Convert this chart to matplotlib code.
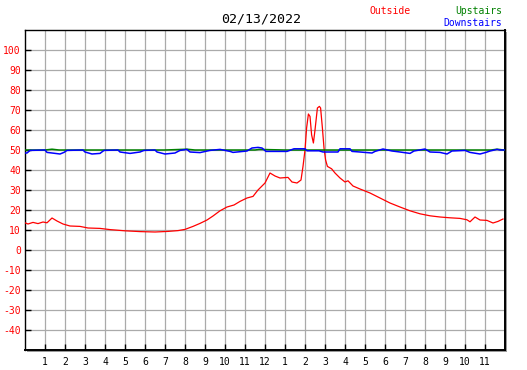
import matplotlib
matplotlib.use("Agg")
import matplotlib.pyplot as plt
from matplotlib.patches import Rectangle

# hour of day (0-24) and temperature readings
outside_hours = [0.0, 0.15, 0.4, 0.65, 0.9, 1.1, 1.35, 1.6, 1.9, 2.25, 2.75, 3.15, 3.75, 4.25,
                 5.0, 5.75, 6.5, 7.15, 7.65, 8.0, 8.4, 8.75, 9.1, 9.4, 9.75, 10.1, 10.45, 10.75,
                 11.1, 11.4, 11.65, 11.85, 12.0, 12.25, 12.5, 12.75, 13.15, 13.35, 13.6, 13.8,
                 13.9, 14.0, 14.08, 14.17, 14.25, 14.33, 14.42, 14.5, 14.62, 14.72, 14.78, 14.87,
                 14.95, 15.03, 15.12, 15.33, 15.5, 15.75, 16.0, 16.15, 16.4, 16.75, 17.25, 17.75,
                 18.25, 18.75, 19.25, 19.75, 20.25, 20.75, 21.25, 21.75, 22.1, 22.25, 22.5, 22.75,
                 23.1, 23.4, 23.65, 23.9]
outside_temp = [13.6, 13.0, 13.8, 13.2, 14.0, 13.6, 16.0, 14.5, 13.0, 12.0, 11.8, 11.0, 10.8, 10.2,
                9.6, 9.2, 9.0, 9.3, 9.7, 10.3, 11.8, 13.3, 15.0, 17.0, 19.6, 21.5, 22.5, 24.3,
                26.0, 26.8, 30.0, 32.0, 33.5, 38.5, 37.0, 36.0, 36.3, 34.0, 33.5, 35.0,
                41.8, 50.0, 61.0, 68.0, 66.8, 57.6, 53.5, 60.0, 71.0, 71.8, 71.0, 61.0,
                51.0, 45.0, 41.8, 40.6, 38.5, 36.0, 34.0, 34.6, 32.0, 30.5, 28.5, 26.0,
                23.5, 21.5, 19.6, 18.1, 17.1, 16.5, 16.1, 15.8, 15.1, 14.1, 16.5, 15.0,
                14.8, 13.5, 14.3, 15.5]

upstairs_hours = [0.0, 1.0, 1.35, 1.7, 2.5, 4.0, 5.5, 7.0, 8.1, 8.5, 10.0, 11.5, 11.7, 13.0,
                  14.5, 16.0, 17.5, 19.0, 20.5, 22.0, 23.3, 23.6, 23.95]
upstairs_temp = [50.0, 50.0, 50.4, 50.0, 50.0, 50.0, 50.0, 50.0, 50.4, 50.0, 50.0, 50.0, 50.3, 50.0,
                 50.0, 50.0, 50.0, 50.0, 50.0, 50.0, 50.0, 50.4, 50.0]

downstairs_hours = [0.0, 0.1, 0.25, 1.0, 1.1, 1.35, 1.75, 1.95, 2.1, 2.9, 3.0, 3.35, 3.75, 3.95,
                    4.65, 4.75, 5.25, 5.75, 5.95, 6.5, 6.6, 7.0, 7.5, 7.75, 8.1, 8.25, 8.75, 9.25,
                    9.75, 10.25, 10.4, 11.1, 11.35, 11.65, 11.85, 12.05, 13.1, 13.45, 14.0, 14.1,
                    14.7, 14.9, 15.65, 15.75, 16.25, 16.35, 16.75, 17.35, 17.5, 17.9, 18.35, 18.75,
                    19.25, 19.45, 20.0, 20.25, 20.75, 21.1, 21.35, 22.0, 22.25, 22.75, 23.05, 23.25,
                    23.6, 23.75, 23.95]
downstairs_temp = [48.5, 48.5, 49.8, 50.0, 48.8, 48.5, 48.0, 48.8, 49.8, 50.0, 49.0, 48.0, 48.3, 49.8,
                   50.0, 49.0, 48.3, 49.0, 49.8, 50.0, 49.0, 48.0, 48.5, 49.8, 50.3, 49.0, 48.7, 49.8,
                   50.3, 49.3, 48.8, 49.5, 51.0, 51.3, 51.0, 49.3, 49.3, 50.6, 50.6, 49.6,
                   49.6, 49.0, 49.0, 50.6, 50.6, 49.3, 49.0, 48.5, 49.3, 50.5, 49.5, 49.0,
                   48.3, 49.5, 50.5, 49.0, 48.8, 48.0, 49.5, 49.8, 48.8, 48.0, 48.8, 49.5,
                   50.3, 50.0, 50.0]

y_ticks = list(range(-40, 101, 10))
x_ticks = list(range(1, 24))
x_labels = [str(h) for h in range(1, 12)] + ["12"] + [str(h) for h in range(1, 12)]

W, H = 527, 370
fig = plt.figure(figsize=(W / 100, H / 100), dpi=100)
ax = fig.add_axes([25 / W, 20 / H, 480 / W, 320 / H])

# drop shadow on right/bottom edge
fig.patches.append(Rectangle(((25 + 2) / W, (20 - 2) / H), 480 / W, 320 / H,
                             transform=fig.transFigure, facecolor="#999999",
                             edgecolor="none", zorder=-1))

mono = "DejaVu Sans Mono"

ax.plot(outside_hours, outside_temp, color="red", lw=0.9, zorder=3)
ax.plot(upstairs_hours, upstairs_temp, color="#008000", lw=1.1, zorder=3)
ax.plot(downstairs_hours, downstairs_temp, color="blue", lw=1.1, zorder=4)

ax.set_xlim(0, 24)
ax.set_ylim(-50, 110)
ax.set_xticks(x_ticks)
ax.set_xticklabels(x_labels, fontfamily=mono, fontsize=7)
ax.set_yticks(y_ticks)
ax.set_yticklabels([str(v) for v in y_ticks], fontfamily=mono, fontsize=7, color="red")
ax.tick_params(direction="in", length=4, width=1.0, color="black", pad=3)
ax.tick_params(axis="x", pad=5)
ax.grid(True, color="#aaaaaa", lw=0.9)
ax.set_axisbelow(True)
for side in ["left", "top"]:
    ax.spines[side].set_linewidth(1.0)
for side in ["right", "bottom"]:
    ax.spines[side].set_linewidth(1.4)

fig.text(261 / W, 1 - 19 / H, "02/13/2022", ha="center", va="center",
         fontfamily=mono, fontsize=9.5)
fig.text(390 / W, 1 - 11 / H, "Outside", ha="center", va="center",
         fontfamily=mono, fontsize=7, color="red")
fig.text(502 / W, 1 - 11 / H, "Upstairs", ha="right", va="center",
         fontfamily=mono, fontsize=7, color="#008000")
fig.text(502 / W, 1 - 23 / H, "Downstairs", ha="right", va="center",
         fontfamily=mono, fontsize=7, color="blue")

fig.savefig("out.png", dpi=100)
